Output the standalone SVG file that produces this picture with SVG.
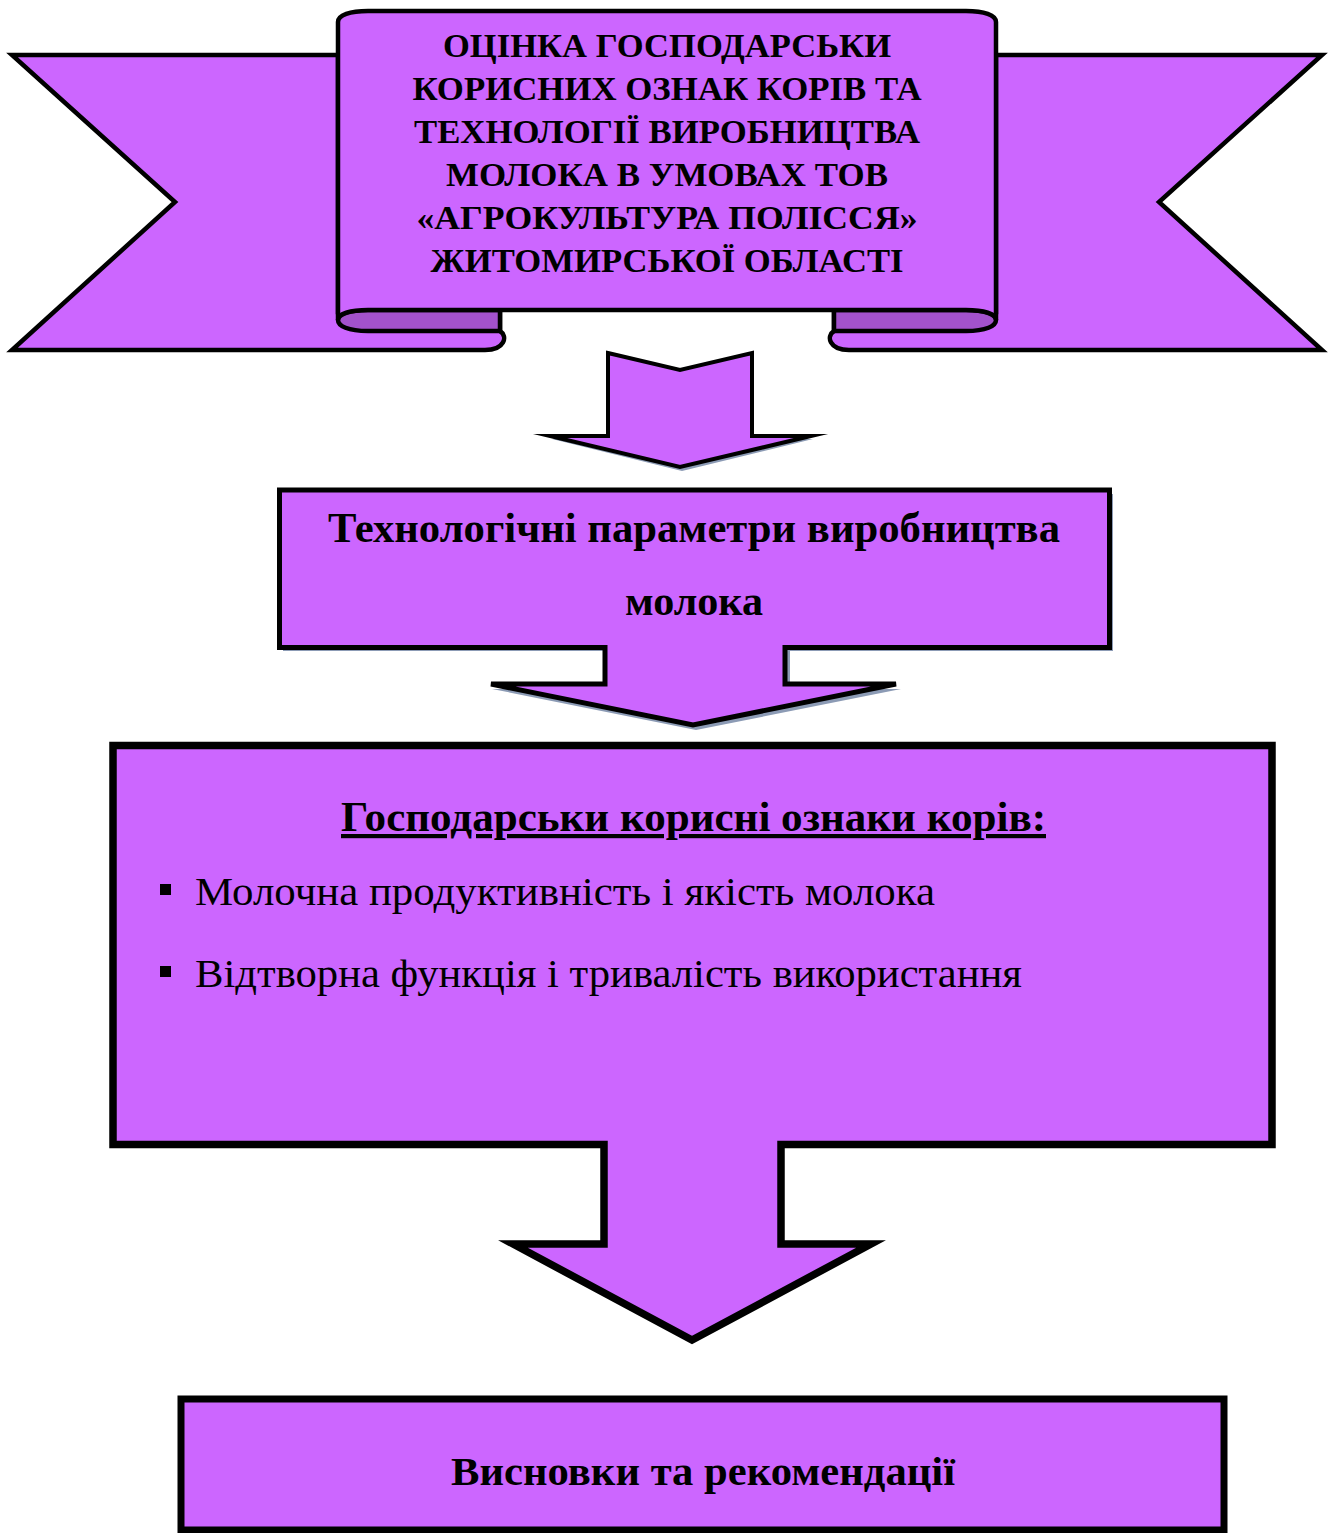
<svg xmlns="http://www.w3.org/2000/svg" width="1329" height="1533" viewBox="0 0 1329 1533">
<style>
.f{fill:#CC66FF;stroke:#000;stroke-linejoin:miter;stroke-miterlimit:10}
.fold{fill:#A352CC;stroke:#000;stroke-width:4.5}
.sh{fill:#8C9BB5;stroke:none}
.t{font-family:"Liberation Serif","Times New Roman",serif;fill:#000}
.b{font-weight:bold}
</style>
<rect width="1329" height="1533" fill="#fff"/>
<g id="ribbon">
  <path class="f" stroke-width="4.5" d="M338,55 L12,55 L175,202 L12,350 L485,350 C505,350 508,336 500,331 L500,312 L338,312 Z"/>
  <path class="f" stroke-width="4.5" d="M996,55 L1322,55 L1159,202 L1322,350 L849,350 C829,350 826,336 834,331 L834,312 L996,312 Z"/>
  <path class="fold" d="M500,310 L500,331 L368,331 C348,331 338,326 338,320 C338,314 348,310 368,310 Z"/>
  <path class="fold" d="M834,310 L834,331 L966,331 C986,331 996,326 996,320 C996,314 986,310 966,310 Z"/>
  <path class="f" stroke-width="4.5" d="M338,320 L338,22 C338,15 350,11 368,11 L966,11 C984,11 996,15 996,22 L996,320 C996,314 984,310 966,310 L368,310 C350,310 338,314 338,320 Z"/>
  <g class="t b" font-size="34" text-anchor="middle" lengthAdjust="spacingAndGlyphs">
    <text x="667" y="57" textLength="448" lengthAdjust="spacingAndGlyphs">ОЦІНКА ГОСПОДАРСЬКИ</text>
    <text x="667" y="100" textLength="509" lengthAdjust="spacingAndGlyphs">КОРИСНИХ ОЗНАК КОРІВ ТА</text>
    <text x="667" y="143" textLength="506" lengthAdjust="spacingAndGlyphs">ТЕХНОЛОГІЇ ВИРОБНИЦТВА</text>
    <text x="667" y="186" textLength="442" lengthAdjust="spacingAndGlyphs">МОЛОКА В УМОВАХ ТОВ</text>
    <text x="667" y="229" textLength="501" lengthAdjust="spacingAndGlyphs">«АГРОКУЛЬТУРА ПОЛІССЯ»</text>
    <text x="667" y="272" textLength="473" lengthAdjust="spacingAndGlyphs">ЖИТОМИРСЬКОЇ ОБЛАСТІ</text>
  </g>
</g>
<g id="connectors">
  <path class="sh" d="M610,356 L682,373 L754,356 L754,439 L813,439 L682,471 L552,439 L610,439 Z"/>
  <path class="f" stroke-width="4" d="M608,353 L680,370 L752,353 L752,436 L811,436 L680,467 L550,436 L608,436 Z"/>
</g>
<g id="node-tech">
  <path class="sh" d="M283,494 H1113 V651 H790 V689 H901 L696,730 L492,689 H608 V651 H283 Z"/>
  <path class="f" stroke-width="5" d="M279.5,490 H1109.5 V647.5 H785 V684 H896 L693,725 L491,684 H605 V647.5 H279.5 Z"/>
  <g class="t b" font-size="43" text-anchor="middle">
    <text x="694" y="542" textLength="732" lengthAdjust="spacingAndGlyphs">Технологічні параметри виробництва</text>
    <text x="694" y="615" textLength="138" lengthAdjust="spacingAndGlyphs">молока</text>
  </g>
</g>
<g id="node-traits">
  <path class="f" stroke-width="7.5" d="M113,745.5 H1272 V1144.5 H781 V1244 H871 L692,1340 L513,1244 H604 V1144.5 H113 Z"/>
  <text class="t b" x="693.5" y="831" font-size="42" text-anchor="middle" text-decoration="underline" textLength="705" lengthAdjust="spacingAndGlyphs">Господарськи корисні ознаки корів:</text>
  <rect x="160" y="884" width="11" height="11" fill="#000"/>
  <rect x="160" y="966" width="11" height="11" fill="#000"/>
  <g class="t" font-size="39">
    <text x="195" y="905" textLength="740" lengthAdjust="spacingAndGlyphs">Молочна продуктивність і якість молока</text>
    <text x="195" y="987" textLength="827" lengthAdjust="spacingAndGlyphs">Відтворна функція і тривалість використання</text>
  </g>
</g>
<g id="node-conclusions">
  <rect class="f" stroke-width="7" x="181" y="1399" width="1043" height="131"/>
  <text class="t b" x="703" y="1485" font-size="40" text-anchor="middle" textLength="504" lengthAdjust="spacingAndGlyphs">Висновки та рекомендації</text>
</g>
</svg>
